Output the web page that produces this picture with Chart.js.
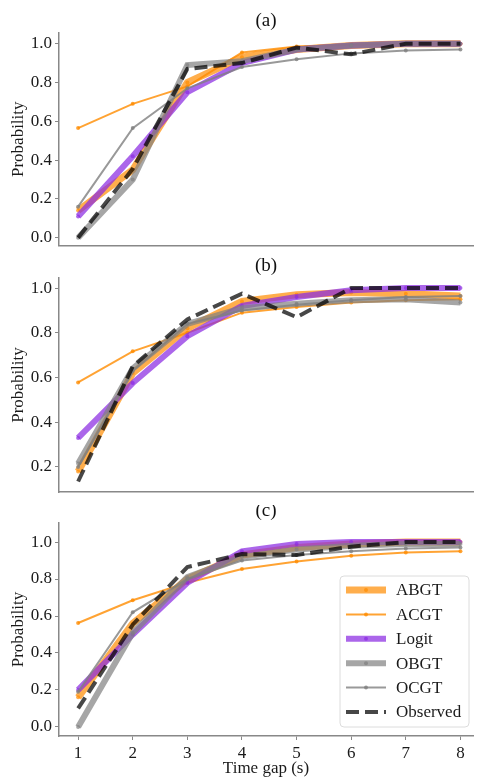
<!DOCTYPE html>
<html>
<head>
<meta charset="utf-8">
<script src="https://cdn.jsdelivr.net/npm/chart.js@4.4.1/dist/chart.umd.min.js"></script>
<style>
  body { margin: 0; background: #fff; }
  #wrap { position: relative; width: 477px; height: 779px; }
  canvas { position: absolute; left: 0; }
</style>
</head>
<body>
<div id="wrap">
  <canvas id="chartA" width="477" height="252" style="top:0px"></canvas>
  <canvas id="chartB" width="477" height="245" style="top:255px"></canvas>
  <canvas id="chartC" width="477" height="274" style="top:505px"></canvas>
</div>
<script>
// Time gap categories and tick labels
var timeGap = [1, 2, 3, 4, 5, 6, 7, 8];
var yTicksAC = [0.0, 0.2, 0.4, 0.6, 0.8, 1.0];
var yTicksB = [0.2, 0.4, 0.6, 0.8, 1.0];
var seriesNames = ['ABGT', 'ACGT', 'Logit', 'OBGT', 'OCGT', 'Observed'];

// Panel (a)
var abgtA = [0.14, 0.35, 0.80, 0.93, 0.97, 0.99, 1.0, 1.0];
var acgtA = [0.565, 0.69, 0.78, 0.955, 0.985, 0.995, 1.0, 1.0];
var logitA = [0.11, 0.42, 0.75, 0.90, 0.97, 0.99, 1.0, 1.0];
var obgtA = [0.0, 0.30, 0.89, 0.91, 0.97, 0.99, 1.0, 1.0];
var ocgtA = [0.16, 0.565, 0.77, 0.88, 0.92, 0.95, 0.965, 0.97];
var observedA = [0.0, 0.355, 0.87, 0.90, 0.98, 0.945, 1.0, 1.0];

// Panel (b)
var abgtB = [0.18, 0.62, 0.82, 0.94, 0.97, 0.98, 0.975, 0.965];
var acgtB = [0.578, 0.717, 0.80, 0.89, 0.915, 0.935, 0.945, 0.95];
var logitB = [0.33, 0.575, 0.785, 0.92, 0.96, 0.99, 1.0, 1.0];
var obgtB = [0.215, 0.64, 0.84, 0.91, 0.93, 0.945, 0.95, 0.935];
var ocgtB = [0.20, 0.63, 0.84, 0.90, 0.925, 0.945, 0.96, 0.965];
var observedB = [0.135, 0.65, 0.86, 0.975, 0.87, 1.0, 1.0, 1.0];

// Panel (c)
var abgtC = [0.16, 0.56, 0.80, 0.93, 0.97, 0.99, 1.0, 1.0];
var acgtC = [0.562, 0.685, 0.78, 0.854, 0.895, 0.926, 0.944, 0.95];
var logitC = [0.20, 0.50, 0.78, 0.95, 0.99, 1.0, 1.0, 1.0];
var obgtC = [0.0, 0.51, 0.81, 0.92, 0.96, 0.98, 0.99, 0.99];
var ocgtC = [0.19, 0.62, 0.80, 0.90, 0.93, 0.95, 0.965, 0.97];
var observedC = [0.10, 0.553, 0.865, 0.935, 0.93, 0.975, 1.0, 1.0];

var serif = "'Liberation Serif', 'DejaVu Serif', serif";

// line styles, same order as seriesNames
var styles = [
    { color: 'rgba(255,140,0,0.7)', width: 7, dash: [] },
    { color: 'rgba(255,140,0,0.8)', width: 2, dash: [] },
    { color: 'rgba(138,43,226,0.72)', width: 6, dash: [] },
    { color: 'rgba(128,128,128,0.7)', width: 6, dash: [] },
    { color: 'rgba(128,128,128,0.8)', width: 2, dash: [] },
    { color: 'rgba(0,0,0,0.72)', width: 4, dash: [13, 6] }
];

function toPoints(values) {
    return values.map(function(v, i) { return { x: timeGap[i], y: v }; });
}

// Panel title drawn over the plot area
var panelTitle = {
    id: 'panelTitle',
    afterDraw: function(chart, args, opts) {
        var ctx = chart.ctx, area = chart.chartArea;
        ctx.save();
        ctx.font = '19px ' + serif;
        ctx.fillStyle = '#111';
        ctx.textAlign = 'center';
        ctx.textBaseline = 'middle';
        ctx.fillText(opts.text, (area.left + area.right) / 2, area.top - 12);
        ctx.restore();
    }
};

// Legend box inside the plot area (lower right)
var insideLegend = {
    id: 'insideLegend',
    afterDraw: function(chart, args, opts) {
        if (!opts.show) return;
        var ctx = chart.ctx, area = chart.chartArea;
        var w = 129, h = 151;
        var x0 = area.right - 4 - w, y0 = area.bottom - 9 - h;
        ctx.save();
        ctx.beginPath();
        ctx.roundRect(x0, y0, w, h, 4);
        ctx.fillStyle = 'rgba(255,255,255,0.85)';
        ctx.fill();
        ctx.lineWidth = 1;
        ctx.strokeStyle = '#dcdcdc';
        ctx.stroke();
        chart.data.datasets.forEach(function(ds, i) {
            var yy = y0 + 14 + i * 24.4;
            ctx.beginPath();
            ctx.setLineDash(ds.borderDash || []);
            ctx.strokeStyle = ds.borderColor;
            ctx.lineWidth = ds.borderWidth;
            ctx.moveTo(x0 + 6, yy);
            ctx.lineTo(x0 + 46, yy);
            ctx.stroke();
            ctx.setLineDash([]);
            if (ds.pointRadius > 0) {
                ctx.beginPath();
                ctx.arc(x0 + 26, yy, ds.pointRadius, 0, Math.PI * 2);
                ctx.fillStyle = ds.borderColor;
                ctx.fill();
            }
            ctx.font = '17px ' + serif;
            ctx.fillStyle = '#1a1a1a';
            ctx.textAlign = 'left';
            ctx.textBaseline = 'middle';
            ctx.fillText(ds.label, x0 + 56, yy + 1);
        });
        ctx.restore();
    }
};

function makeChart(id, values, title, yMin, yMax, yTicks, showX, padTop, padBottom, xHeight) {
    var datasets = values.map(function(v, i) {
        var s = styles[i];
        return {
            label: seriesNames[i],
            data: toPoints(v),
            borderColor: s.color,
            backgroundColor: s.color,
            borderWidth: s.width,
            borderDash: s.dash,
            pointRadius: i === 5 ? 0 : 2,
            pointBorderWidth: 0,
            pointBackgroundColor: s.color,
            tension: 0,
            order: 6 - i
        };
    });

    return new Chart(document.getElementById(id), {
        type: 'line',
        data: { datasets: datasets },
        options: {
            responsive: false,
            animation: false,
            layout: { padding: { top: padTop, bottom: padBottom, left: 0, right: 0 } },
            plugins: {
                legend: { display: false },
                tooltip: { enabled: false },
                panelTitle: { text: title },
                insideLegend: { show: showX }
            },
            scales: {
                x: {
                    type: 'linear',
                    min: 0.65,
                    max: 8.23,
                    afterBuildTicks: function(s) { s.ticks = timeGap.map(function(v) { return { value: v }; }); },
                    afterFit: function(s) { s.height = xHeight; s.paddingLeft = 0; s.paddingRight = 0; },
                    grid: { drawOnChartArea: false, drawTicks: showX, tickLength: 4, tickColor: '#888' },
                    border: { color: '#888', width: 1.5 },
                    ticks: { display: showX, padding: 3, color: '#1a1a1a', maxRotation: 0, autoSkip: false,
                             font: { family: serif, size: 17 } },
                    title: { display: showX, text: 'Time gap (s)', color: '#1a1a1a', padding: 0,
                             font: { family: serif, size: 17 } }
                },
                y: {
                    min: yMin,
                    max: yMax,
                    afterBuildTicks: function(s) { s.ticks = yTicks.map(function(v) { return { value: v }; }); },
                    afterFit: function(s) { s.width = 59; s.paddingTop = 0; s.paddingBottom = 0; },
                    grid: { drawOnChartArea: false, tickLength: 4, tickColor: '#888' },
                    border: { color: '#888', width: 1.5 },
                    ticks: { padding: 3, color: '#1a1a1a', font: { family: serif, size: 17 },
                             callback: function(v) { return v.toFixed(1); } },
                    title: { display: true, text: 'Probability', color: '#1a1a1a', padding: { top: 8, bottom: 0 },
                             font: { family: serif, size: 17 } }
                }
            }
        },
        plugins: [panelTitle, insideLegend]
    });
}

makeChart('chartA', [abgtA, acgtA, logitA, obgtA, ocgtA, observedA], '(a)',
    -0.04, 1.055, yTicksAC, false, 33, 6.5, 0);
makeChart('chartB', [abgtB, acgtB, logitB, obgtB, ocgtB, observedB], '(b)',
    0.088, 1.045, yTicksB, false, 23, 8, 0);
makeChart('chartC', [abgtC, acgtC, logitC, obgtC, ocgtC, observedC], '(c)',
    -0.049, 1.103, yTicksAC, true, 18, 0, 43);
</script>
</body>
</html>
